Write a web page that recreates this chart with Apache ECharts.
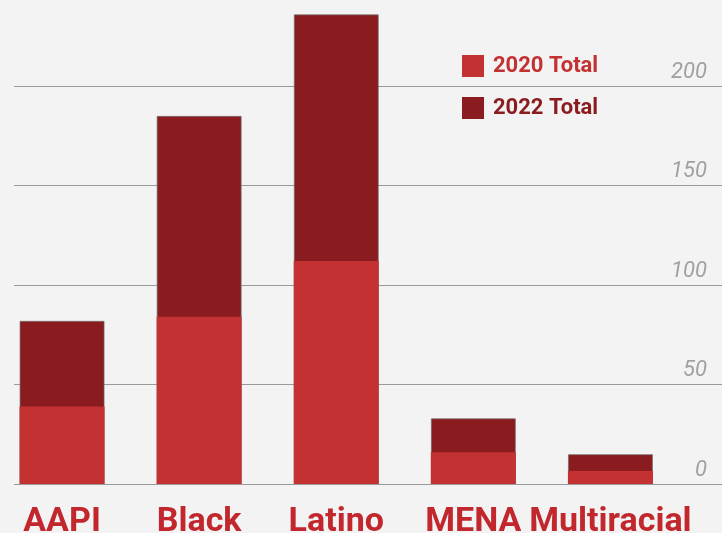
<!DOCTYPE html>
<html>
<head>
<meta charset="utf-8">
<script src="https://cdn.jsdelivr.net/npm/echarts@6/dist/echarts.min.js"></script>
<style>
  html, body { margin: 0; padding: 0; background: #f3f3f3; overflow: hidden; }
  /* shifted 10px left so the first band can start slightly off-page */
  #chart { width: 732px; height: 533px; margin-left: -10px; }
</style>
</head>
<body>
<div id="chart"></div>
<script>
const categories = ['AAPI', 'Black', 'Latino', 'MENA', 'Multiracial'];
const total2020 = [39, 84, 112, 16, 6.5];
const total2022 = [82, 185, 236, 33, 15];
const tickValues = [0, 50, 100, 150, 200];

const color2020 = '#c33133';
const color2022 = '#8a1b1e';

const chart = echarts.init(document.getElementById('chart'));

chart.setOption({
    backgroundColor: '#f3f3f3',
    animation: false,
    legend: {
        orient: 'vertical',
        left: 467,
        top: 50,
        itemWidth: 22,
        itemHeight: 22,
        itemGap: 20,
        icon: 'rect',
        itemStyle: { borderWidth: 0 },
        textStyle: {
            fontFamily: 'Roboto',
            fontWeight: 'bold',
            fontSize: 22,
            padding: [3, 0, 0, 4]
        },
        data: [
            { name: '2020 Total', textStyle: { color: color2020 } },
            { name: '2022 Total', textStyle: { color: color2022 } }
        ]
    },
    grid: [
        // bars
        { left: 3.5, right: 43, top: 6.4, bottom: 49, containLabel: false, outerBoundsMode: 'none' },
        // gridlines + tick labels
        { left: 24, right: 0, top: 86, bottom: 49, containLabel: false, outerBoundsMode: 'none' }
    ],
    xAxis: [
        {
            type: 'category',
            gridIndex: 0,
            data: categories,
            axisLine: { show: false },
            axisTick: { show: false },
            axisLabel: {
                margin: 21,
                color: '#c1272d',
                fontFamily: 'Roboto',
                fontWeight: 'bold',
                fontSize: 34,
                interval: 0
            }
        },
        { type: 'value', gridIndex: 1, show: false, min: 0, max: 1 }
    ],
    yAxis: [
        {
            type: 'value',
            gridIndex: 0,
            min: 0,
            max: 240,
            show: false,
            splitLine: { show: false }
        },
        {
            type: 'value',
            gridIndex: 1,
            position: 'right',
            min: 0,
            max: 200,
            interval: 50,
            axisLine: { show: false },
            axisTick: { show: false },
            splitLine: { lineStyle: { color: '#9a9a9a', width: 1 } },
            axisLabel: {
                inside: true,
                margin: 15,
                verticalAlign: 'bottom',
                padding: [0, 0, 3, 0],
                color: '#a0a0a0',
                fontFamily: 'Roboto',
                fontStyle: 'italic',
                fontSize: 22,
                formatter: function (v) {
                    return tickValues.indexOf(v) >= 0 ? String(v) : '';
                }
            }
        }
    ],
    series: [
        {
            name: '2022 Total',
            type: 'bar',
            xAxisIndex: 0,
            yAxisIndex: 0,
            barWidth: 85,
            data: total2022,
            itemStyle: {
                color: color2022,
                borderColor: 'rgba(110,110,110,0.7)',
                borderWidth: 1
            }
        },
        {
            name: '2020 Total',
            type: 'bar',
            xAxisIndex: 0,
            yAxisIndex: 0,
            barWidth: 85,
            barGap: '-100%',
            data: total2020,
            itemStyle: { color: color2020 }
        }
    ]
});
</script>
</body>
</html>
